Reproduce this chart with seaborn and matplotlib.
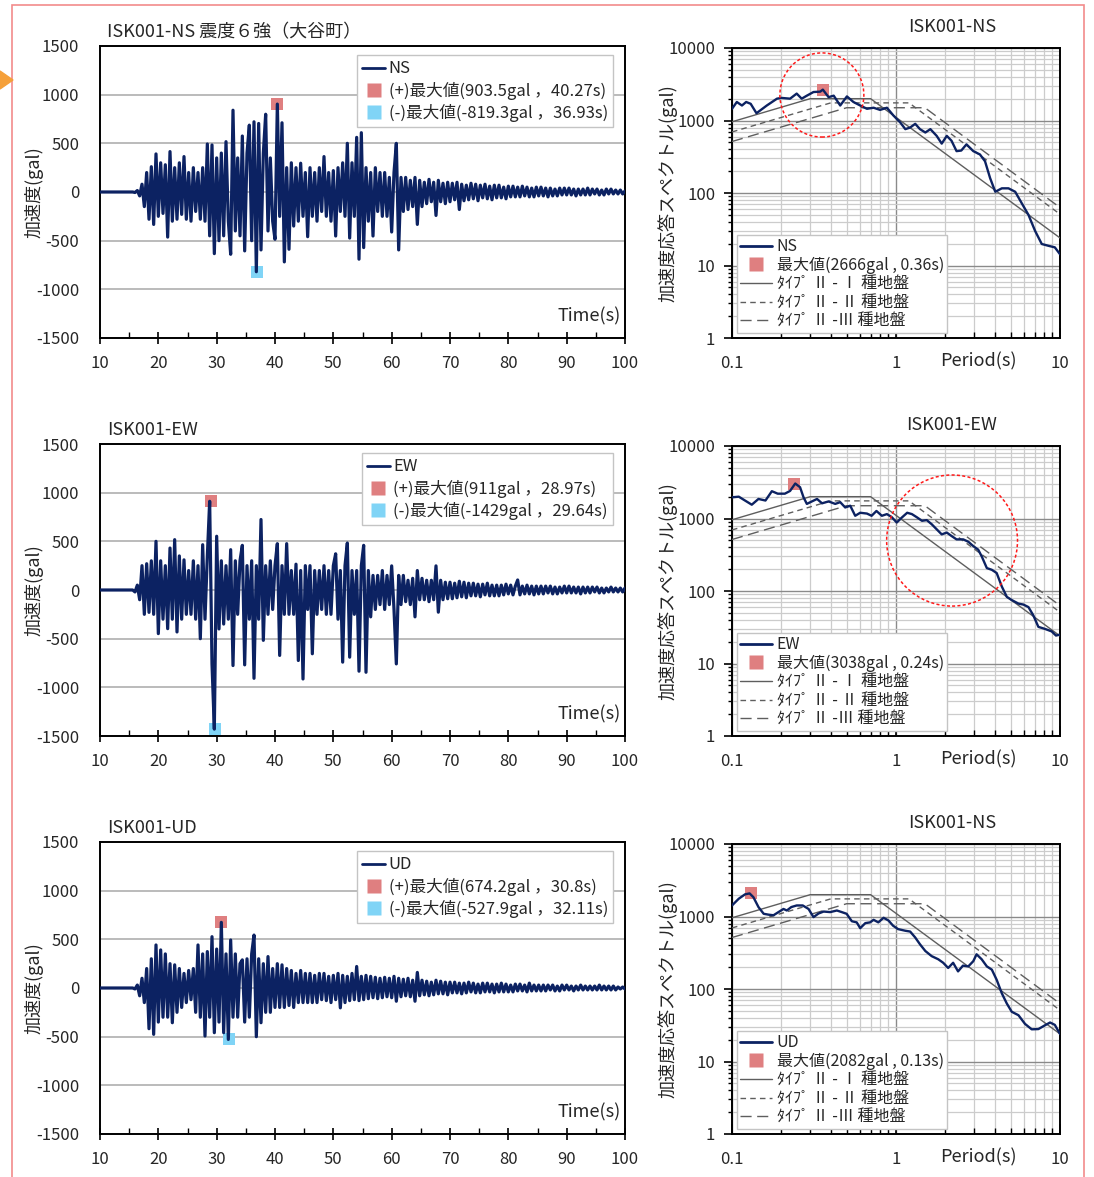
import numpy as np
import pandas as pd
import matplotlib
matplotlib.use("Agg")
import matplotlib.pyplot as plt
import seaborn as sns
from matplotlib.lines import Line2D
from matplotlib.patches import Ellipse, Rectangle, Polygon
from matplotlib.ticker import FixedLocator, NullFormatter, LogLocator, MultipleLocator

# ---------------- data ----------------
wave_names = ["NS", "EW", "UD"]
wave_titles = ["ISK001-NS 震度６強（大谷町）", "ISK001-EW", "ISK001-UD"]
spec_titles = ["ISK001-NS", "ISK001-EW", "ISK001-NS"]

# digitised records: one value every 0.4 s starting at 10 s
time_start = 10.0
time_step = 0.4

ns_acc = [
    0, 0, 0, 0, 0, 0, 0, 0, 0, 0,
    0, 0, 0, 0, 0, -5, 15, -40, 80, -150,
    200, -280, 260, -333, 391, -250, 300, -220, 280, -463,
    415, -300, 250, -280, 300, -230, 364, -280, 200, -300,
    250, -200, 200, -280, 250, -300, 493, -450, 483, -633,
    350, -500, 400, -450, 517, -300, -640, 840, -400, 350,
    -450, 575, -605, 400, 687, -500, 721, -819, 704, -595,
    400, 799, -400, 350, -300, -486, 903, -250, 711, -718,
    250, -588, 300, -350, 250, -300, 296, -250, 200, -459,
    250, -250, 200, -300, 250, -200, 364, -250, 200, -300,
    220, -452, 250, -200, 300, -250, 500, -473, 300, -250,
    561, -690, 609, -571, 250, -300, 200, -452, 250, -200,
    200, -250, 200, -250, 150, -411, 200, 500, -595, 150,
    -200, 150, -180, 120, -150, 150, -333, 120, -150, 100,
    -120, 130, -100, 100, -241, 120, -100, 90, -120, 100,
    -100, 90, -80, 100, -180, 80, -90, 70, -80, 90,
    -70, 80, -90, 70, -60, 80, -70, 60, -80, 70,
    -60, 70, -60, 50, -70, 60, -50, 60, -50, 50,
    -50, 60, -40, 50, -50, 40, -50, 50, -40, 50,
    -40, 40, -50, 40, -40, 30, -40, 40, -30, 40,
    -30, 40, -30, 30, -40, 30, -30, 30, -30, 40,
    -30, 30, -20, 30, -30, 20, -30, 30, -20, 30,
    -20, 20, -20, 20, -20, 10,
]

ew_acc = [
    0, 0, 0, 0, 0, 0, 0, 0, 0, 0,
    0, 0, 0, 0, 0, -20, 50, -100, 250, -250,
    270, -230, 300, -250, 500, -448, 300, -300, 250, -397,
    431, -300, 517, -431, 350, -300, 310, -250, 200, -250,
    300, -300, 250, -500, 465, -300, 350, 911, -759, -1429,
    552, -400, 300, -350, 250, -300, 414, -776, 300, -250,
    300, 459, -769, 250, -300, 300, -907, 250, -300, 724,
    -517, 250, -250, 300, -200, 250, 476, -672, 250, -250,
    476, -250, 200, -250, 265, -724, 200, -914, 250, -200,
    250, -655, 200, -250, 200, -200, 250, -250, 200, -250,
    250, 372, -300, 200, -741, 250, 483, -690, 200, -250,
    200, -834, 250, 459, -845, 200, -276, 150, -200, 150,
    -150, 200, -200, 150, -150, 248, -200, -759, 150, -150,
    150, -120, 100, -150, 120, -276, 200, -100, 120, -100,
    100, -120, 100, -100, 248, -228, 100, -100, 80, -90,
    80, -90, 70, -80, 90, -70, 80, -80, 70, -60,
    70, -60, 60, -70, 60, -50, 70, -60, 50, -60,
    50, -60, 50, -50, 60, -40, 50, -50, 40, 103,
    -50, 40, -40, 50, -40, 40, -50, 40, -40, 40,
    -40, 40, -30, 40, -40, 30, -40, 30, -30, 40,
    -30, 40, -30, 30, -30, 30, -40, 30, -30, 30,
    -30, 30, -20, 30, -30, 20, -30, 20, -20, 30,
    -20, 20, -20, 20, -20, 20,
]

ud_acc = [
    0, 0, 0, 0, 0, 0, 0, 0, 0, 0,
    0, 0, 0, 0, 0, -10, 30, -80, 100, -150,
    200, -418, 300, -476, 442, -350, 391, -300, 350, -300,
    250, -357, 238, -250, 200, -200, 150, -150, 180, -120,
    200, -250, 442, -300, 350, -493, 374, -300, 527, -459,
    400, -350, 674, -459, 350, -528, 493, -300, 350, -300,
    250, 289, -350, 300, -300, 350, 544, -500, 300, -357,
    250, -250, 323, -250, 200, -200, 250, -200, 238, -200,
    200, -180, 180, -200, 150, -150, 180, -150, 150, -150,
    150, -150, 130, -150, 150, -120, 150, -130, 120, -150,
    130, -120, 150, -204, 130, -150, 120, -130, 150, -120,
    221, -130, 120, -120, 130, -110, 120, -100, 110, -110,
    100, -100, 110, -90, 100, -100, 120, -136, 100, -90,
    90, -80, 100, -90, 80, -136, 160, -80, 80, -70,
    70, -80, 60, -70, 80, -60, 70, -60, 60, -70,
    60, -50, 60, -50, 50, -60, 50, -50, 60, -40,
    50, -50, 40, -50, 50, -40, 50, -40, 40, -50,
    40, -40, 50, -40, 40, -40, 30, -40, 40, -30,
    40, -30, 30, -40, 50, -30, 30, -30, 30, -30,
    30, -30, 30, -20, 30, -30, 20, -30, 30, -20,
    30, -20, 20, -30, 20, -20, 30, -20, 20, -20,
    20, -20, 20, -20, 30, -20, 20, -20, 20, -20,
    20, -20, 10, -10, 10, -10,
]

pos_max_time = [40.27, 28.97, 30.8]
pos_max_val = [903.5, 911, 674.2]
neg_max_time = [36.93, 29.64, 32.11]
neg_max_val = [-819.3, -1429, -527.9]

ns_period = [0.1, 0.107, 0.115, 0.122, 0.13, 0.141, 0.163, 0.188, 0.2, 0.226,
             0.248, 0.266, 0.286, 0.314, 0.345, 0.358, 0.388, 0.417, 0.457, 0.502,
             0.55, 0.605, 0.665, 0.73, 0.8, 0.88, 0.965, 1.06, 1.14, 1.22,
             1.31, 1.4, 1.51, 1.62, 1.77, 1.9, 2.04, 2.18, 2.34, 2.5,
             2.69, 2.96, 3.25, 3.49, 3.75, 4.03, 4.42, 4.85, 5.33, 5.85,
             6.42, 7.05, 7.74, 8.5, 9.3, 10]
ns_sa = [1450, 1800, 1610, 1800, 1700, 1260, 1610, 2000, 2050, 2000,
         2350, 2000, 2200, 2470, 2500, 2666, 2100, 2200, 1610, 2150,
         1800, 1610, 1450, 1500, 1400, 1500, 1170, 943, 760, 800,
         900, 760, 683, 760, 614, 480, 614, 526, 378, 385,
         469, 378, 340, 274, 160, 104, 116, 116, 104, 72,
         50, 30, 19.8, 18.7, 17.8, 14.3]

ew_period = [0.1, 0.11, 0.12, 0.132, 0.145, 0.16, 0.175, 0.19, 0.21, 0.226,
             0.243, 0.26, 0.273, 0.286, 0.307, 0.33, 0.354, 0.388, 0.426, 0.457,
             0.49, 0.526, 0.564, 0.605, 0.665, 0.71, 0.76, 0.82, 0.88, 0.94,
             1.01, 1.09, 1.17, 1.25, 1.34, 1.44, 1.54, 1.65, 1.77, 1.9,
             2.04, 2.18, 2.34, 2.57, 2.76, 2.96, 3.17, 3.33, 3.58, 3.84,
             4.11, 4.42, 4.74, 5.08, 5.58, 5.98, 6.42, 6.88, 7.38, 8.1,
             8.9, 9.45, 10]
ew_sa = [1960, 2000, 1770, 1550, 1860, 1770, 2380, 2200, 2200, 2400,
         3038, 2700, 1960, 1590, 1720, 1860, 1620, 1720, 1590, 1680,
         1420, 1500, 1090, 1200, 1170, 1090, 1270, 1090, 1150, 1050,
         880, 1040, 1200, 1150, 1040, 930, 950, 834, 710, 604,
         640, 574, 515, 515, 478, 416, 372, 301, 207, 196,
         177, 115, 83, 75, 67, 65, 60, 46, 32, 30,
         27.7, 24.3, 25]

ud_period = [0.1, 0.11, 0.12, 0.128, 0.135, 0.145, 0.156, 0.167, 0.179, 0.192,
             0.206, 0.216, 0.23, 0.248, 0.27, 0.293, 0.314, 0.337, 0.362, 0.397,
             0.436, 0.467, 0.5, 0.538, 0.576, 0.605, 0.65, 0.695, 0.73, 0.78,
             0.84, 0.9, 0.96, 1.03, 1.14, 1.22, 1.31, 1.4, 1.51, 1.65,
             1.81, 1.94, 2.08, 2.23, 2.39, 2.56, 2.76, 2.96, 3.1, 3.33,
             3.58, 3.84, 4.11, 4.42, 4.74, 5.08, 5.58, 6.12, 6.72, 7.38,
             8.1, 8.7, 9.3, 10]
ud_sa = [1420, 1760, 2020, 2082, 1850, 1350, 1090, 1060, 1040, 1150,
         1270, 1210, 1350, 1420, 1420, 1270, 980, 1100, 1170, 1150,
         1210, 1150, 1090, 860, 830, 690, 810, 830, 900, 830,
         960, 880, 746, 670, 636, 620, 513, 414, 334, 284,
         257, 230, 195, 230, 175, 210, 205, 242, 301, 257,
         205, 185, 134, 87, 63, 48.5, 43.5, 33, 27.8, 28,
         31.6, 34.5, 32, 24]

spec_peak_period = [0.36, 0.24, 0.13]
spec_peak_val = [2666, 3038, 2082]

type_labels = ["ﾀｲﾌﾟ Ⅱ - Ⅰ 種地盤", "ﾀｲﾌﾟ Ⅱ - Ⅱ 種地盤", "ﾀｲﾌﾟ Ⅱ -Ⅲ 種地盤"]
type1_period = [0.1, 0.3, 0.7, 10]
type1_val = [960, 2000, 2000, 24]
type2_period = [0.1, 0.4, 1.2, 10]
type2_val = [695, 1750, 1750, 51]
type3_period = [0.1, 0.5, 1.5, 10]
type3_val = [513, 1500, 1500, 63]

# ---------------- style ----------------
sns.set_theme(style="white")
plt.rcParams["font.family"] = ["Noto Sans CJK JP", "DejaVu Sans"]
plt.rcParams["axes.unicode_minus"] = False

NAVY = "#0c2262"
POS_C = "#df7f80"
NEG_C = "#80d4f6"
DES_C = "#5e5e5e"
dash_styles = [(None), (4, 3), (8, 4)]

W, H = 1094, 1177
fig = plt.figure(figsize=(W / 100, H / 100), dpi=100)


def rect(l, t, r, b):
    return [l / W, 1 - b / H, (r - l) / W, (b - t) / H]


tops = [46, 444, 842]
bottoms = [338, 736, 1134]
waves = [ns_acc, ew_acc, ud_acc]
spec_T = [ns_period, ew_period, ud_period]
spec_S = [ns_sa, ew_sa, ud_sa]
design = [(type1_period, type1_val), (type2_period, type2_val), (type3_period, type3_val)]

circles = {0: (0.274, 0.838, 0.256, 0.29), 1: (0.671, 0.674, 0.399, 0.452)}

for i in range(3):
    # ---------- waveform ----------
    axw = fig.add_axes(rect(100, tops[i], 625, bottoms[i]))
    acc = np.array(waves[i], dtype=float)
    t = time_start + time_step * np.arange(len(acc))
    df = pd.DataFrame({"t": t, "a": acc})
    sns.lineplot(data=df, x="t", y="a", ax=axw, color=NAVY, lw=2.3,
                 estimator=None, sort=False, zorder=3)
    sns.scatterplot(x=[pos_max_time[i]], y=[pos_max_val[i]], ax=axw, marker="s",
                    s=85, color=POS_C, linewidth=0, zorder=2)
    sns.scatterplot(x=[neg_max_time[i]], y=[neg_max_val[i]], ax=axw, marker="s",
                    s=85, color=NEG_C, linewidth=0, zorder=2)
    axw.set_xlim(10, 100)
    axw.set_ylim(-1500, 1500)
    axw.set_xticks(range(10, 101, 10))
    axw.xaxis.set_minor_locator(MultipleLocator(5))
    axw.set_yticks(range(-1500, 1501, 500))
    axw.yaxis.grid(True, color="#a8a8a8", lw=1.1)
    axw.xaxis.grid(False)
    axw.set_axisbelow(True)
    for sp in axw.spines.values():
        sp.set_color("black")
        sp.set_linewidth(1.4)
    axw.tick_params(axis="x", which="major", bottom=True, direction="inout",
                    length=8, width=1.2, color="black", labelsize=12, pad=8)
    axw.tick_params(axis="x", which="minor", bottom=True, direction="in",
                    length=4, width=1.0, color="black")
    axw.tick_params(axis="y", left=False, labelsize=12, pad=9)
    axw.set_xlabel("")
    axw.set_ylabel("加速度(gal)", fontsize=13)
    axw.yaxis.set_label_coords(-0.108, 0.5)
    axw.text(0.992, 0.075, "Time(s)", transform=axw.transAxes, ha="right",
             va="center", fontsize=13)
    fig.text(107 / W, 1 - (32 + (tops[i] - 46)) / H, wave_titles[i], ha="left",
             va="center", fontsize=13)
    handles = [Line2D([], [], color=NAVY, lw=2),
               Line2D([], [], marker="s", ls="", color=POS_C, ms=9.5, mec="none"),
               Line2D([], [], marker="s", ls="", color=NEG_C, ms=9.5, mec="none")]
    labels = [wave_names[i],
              f"(+)最大値({pos_max_val[i]:g}gal ，{pos_max_time[i]:g}s)",
              f"(-)最大値({neg_max_val[i]:g}gal ，{neg_max_time[i]:g}s)"]
    leg = axw.legend(handles, labels, loc="upper right", bbox_to_anchor=(0.977, 0.968),
                     fontsize=12, frameon=True, fancybox=False, edgecolor="#c4c4c4",
                     framealpha=1, handlelength=1.4, handletextpad=0.2,
                     labelspacing=0.25, borderpad=0.3, borderaxespad=0)
    leg.get_frame().set_linewidth(1.0)

    # ---------- response spectrum ----------
    axs = fig.add_axes(rect(732, tops[i] + 2, 1060, bottoms[i]))
    axs.set_xscale("log")
    axs.set_yscale("log")
    for k, (dT, dS) in enumerate(design):
        kw = dict(color=DES_C, lw=1.0, zorder=3)
        if dash_styles[k] is not None:
            kw["dashes"] = dash_styles[k]
        sns.lineplot(x=dT, y=dS, ax=axs, estimator=None, sort=False, **kw)
    sdf = pd.DataFrame({"T": spec_T[i], "S": spec_S[i]})
    sns.lineplot(data=sdf, x="T", y="S", ax=axs, color=NAVY, lw=1.7,
                 estimator=None, sort=False, zorder=4)
    sns.scatterplot(x=[spec_peak_period[i]], y=[spec_peak_val[i]], ax=axs, marker="s",
                    s=85, color=POS_C, linewidth=0, zorder=3)
    axs.set_xlim(0.1, 10)
    axs.set_ylim(1, 10000)
    axs.xaxis.set_major_locator(FixedLocator([0.1, 1, 10]))
    axs.set_xticklabels(["0.1", "1", "10"])
    axs.yaxis.set_major_locator(FixedLocator([1, 10, 100, 1000, 10000]))
    axs.set_yticklabels(["1", "10", "100", "1000", "10000"])
    axs.xaxis.set_minor_locator(LogLocator(base=10, subs=np.arange(2, 10)))
    axs.yaxis.set_minor_locator(LogLocator(base=10, subs=np.arange(2, 10)))
    axs.xaxis.set_minor_formatter(NullFormatter())
    axs.yaxis.set_minor_formatter(NullFormatter())
    axs.grid(which="major", color="#8a8a8a", lw=1.0)
    axs.grid(which="minor", color="#cccccc", lw=0.9)
    axs.set_axisbelow(True)
    for sp in axs.spines.values():
        sp.set_color("black")
        sp.set_linewidth(1.4)
    axs.tick_params(axis="x", which="major", bottom=True, direction="in", length=7,
                    width=1.2, color="black", labelsize=12, pad=12)
    axs.tick_params(axis="x", which="minor", bottom=True, direction="in", length=4,
                    width=1.0, color="black")
    axs.tick_params(axis="y", which="major", left=True, direction="out", length=6,
                    width=1.2, color="black", labelsize=12, pad=6)
    axs.tick_params(axis="y", which="minor", left=True, direction="out", length=3,
                    width=1.0, color="black")
    axs.set_xlabel("")
    axs.set_ylabel("加速度応答スペクトル(gal)", fontsize=13)
    axs.yaxis.set_label_coords(-0.165, 0.5)
    axs.text((978 - 732) / 328, -0.08, "Period(s)", transform=axs.transAxes,
             ha="center", va="center", fontsize=13)
    fig.text(952 / W, 1 - (27 + (tops[i] - 46)) / H, spec_titles[i], ha="center",
             va="center", fontsize=13)
    sh = [Line2D([], [], color=NAVY, lw=2),
          Line2D([], [], marker="s", ls="", color=POS_C, ms=9.5, mec="none"),
          Line2D([], [], color=DES_C, lw=1.0),
          Line2D([], [], color=DES_C, lw=1.0, dashes=dash_styles[1]),
          Line2D([], [], color=DES_C, lw=1.0, dashes=dash_styles[2])]
    sl = [wave_names[i], f"最大値({spec_peak_val[i]:g}gal , {spec_peak_period[i]:g}s)"] + type_labels
    leg2 = axs.legend(sh, sl, loc="lower left", bbox_to_anchor=(0.015, 0.017),
                      fontsize=11.5, frameon=True, fancybox=False, edgecolor="#c4c4c4",
                      framealpha=1, handlelength=2.0, handletextpad=0.3,
                      labelspacing=0.1, borderpad=0.2, borderaxespad=0)
    leg2.get_frame().set_linewidth(1.0)
    leg2.set_zorder(6)
    if i in circles:
        cx, cy, cw, ch = circles[i]
        axs.add_patch(Ellipse((cx, cy), cw, ch, transform=axs.transAxes, fill=False,
                              ec="#ff1a1a", lw=1.1, ls=(0, (2, 1.5)), clip_on=False,
                              zorder=7))

# page decorations
fig.add_artist(Rectangle((12 / W, -0.01), (1084 - 12) / W, 1.01 - 5 / H,
                         transform=fig.transFigure, fill=False, ec="#f28b8b", lw=1.2))
fig.add_artist(Polygon([[0, 1 - 71 / H], [13 / W, 1 - 80 / H], [0, 1 - 89 / H]],
                       closed=True, transform=fig.transFigure, color="#f5a03a"))

fig.savefig("out.png", dpi=100)
